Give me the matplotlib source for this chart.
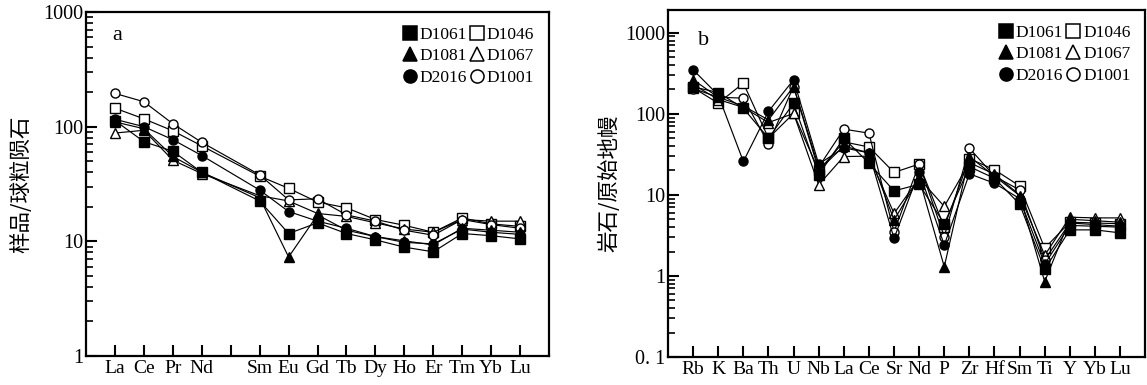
"""
REE chondrite-normalised pattern (a) and primitive-mantle spider diagram (b).
"""

import numpy as np
import matplotlib
matplotlib.use('Agg')
import matplotlib.pyplot as plt
from matplotlib.lines import Line2D
from matplotlib.ticker import LogLocator, NullFormatter

plt.rcParams['font.family'] = ['Liberation Serif', 'Noto Sans CJK SC']

CJK = ['Noto Sans CJK SC', 'DejaVu Sans']

# ---- data -------------------------------------------------------------
SAMPLES = ['D1061', 'D1081', 'D2016', 'D1046', 'D1067', 'D1001']
MARKERS = ['s', '^', 'o', 's', '^', 'o']
FILLED = [True, True, True, False, False, False]

# panel a: REE / chondrite (Pm left empty)
ree_ticks = ['La', 'Ce', 'Pr', 'Nd', '', 'Sm', 'Eu', 'Gd', 'Tb', 'Dy',
             'Ho', 'Er', 'Tm', 'Yb', 'Lu']
ree_d1061 = [113, 74, 61, 40, 22.5, 11.7, 14.5, 11.7, 10.3, 8.9, 8.1, 11.7, 11.2, 10.5]
ree_d1081 = [110, 96, 55, 40, 24, 7.3, 17, 12.5, 11, 10.1, 9.3, 13, 12.5, 12]
ree_d2016 = [116, 100, 77, 56, 28, 18.2, 15, 13, 11, 9.8, 9.5, 12.8, 12, 11.5]
ree_d1046 = [145, 117, 92, 68, 37, 29, 22, 19.6, 15.5, 13.8, 12, 16, 14.2, 13.5]
ree_d1067 = [88, 93, 51, 39, 25, 22.5, 17.5, 16.5, 14.5, 12.8, 12, 15.5, 15, 15]
ree_d1001 = [195, 165, 106, 73, 38, 23, 23.5, 17, 15, 12.5, 11.3, 15.5, 14, 13]

# panel b: trace elements / primitive mantle
spider_ticks = ['Rb', 'K', 'Ba', 'Th', 'U', 'Nb', 'La', 'Ce', 'Sr', 'Nd',
                'P', 'Zr', 'Hf', 'Sm', 'Ti', 'Y', 'Yb', 'Lu']
sp_d1061 = [215, 183, 117, 50, 135, 17.7, 50, 24.6, 11.2, 13.5, 4.4, 22.3, 16, 7.7, 1.21, 3.7, 3.7, 3.4]
sp_d1081 = [263, 160, 125, 84, 217, 20, 40, 33, 4.9, 16, 1.3, 29.7, 17, 9.8, 0.85, 5.0, 4.8, 4.6]
sp_d2016 = [349, 170, 25.8, 107, 263, 24, 38, 33, 2.9, 19.4, 2.4, 18.2, 13.9, 9.0, 1.4, 4.2, 4.1, 4.0]
sp_d1046 = [210, 135, 239, 50, 101, 20, 45, 39, 18.9, 24, 4.0, 28, 20.4, 12.9, 2.2, 4.6, 4.5, 4.4]
sp_d1067 = [230, 150, 120, 78, 101, 13.3, 29.7, 30, 5.9, 16, 7.2, 25, 18, 10, 1.8, 5.3, 5.2, 5.2]
sp_d1001 = [205, 160, 156, 43, 217, 22, 64.7, 57.7, 3.5, 24, 3.06, 37.7, 17, 11.5, 1.58, 4.5, 4.3, 4.1]

REE_SERIES = [ree_d1061, ree_d1081, ree_d2016, ree_d1046, ree_d1067, ree_d1001]
SP_SERIES = [sp_d1061, sp_d1081, sp_d2016, sp_d1046, sp_d1067, sp_d1001]


def style_axes(ax, ticks, ylim, ylabels, ylabel, letter, letter_xy, ylabelpad):
    n = len(ticks)
    ax.set_yscale('log')
    ax.set_xlim(0, n + 1)
    ax.set_ylim(*ylim)
    ax.set_xticks(np.arange(1, n + 1))
    ax.set_xticklabels(ticks, fontsize=14)
    yt = [float(s.replace(' ', '')) for s in ylabels]
    ax.set_yticks(yt)
    ax.set_yticklabels(ylabels, fontsize=14.5)
    ax.yaxis.set_minor_locator(LogLocator(base=10, subs=np.arange(2, 10), numticks=20))
    ax.yaxis.set_minor_formatter(NullFormatter())
    ax.tick_params(axis='x', which='major', direction='in', length=8, width=1.5,
                   pad=3, top=False)
    ax.tick_params(axis='y', which='major', direction='in', length=8, width=1.5,
                   pad=2, right=False)
    ax.tick_params(axis='y', which='minor', direction='in', length=5, width=1.2,
                   right=False)
    for sp in ax.spines.values():
        sp.set_linewidth(1.6)
    ax.set_ylabel(ylabel, family=CJK, fontsize=15.5, labelpad=ylabelpad)
    ax.text(letter_xy[0], letter_xy[1], letter, transform=ax.transAxes,
            fontsize=16, ha='left', va='center')


def plot_series(ax, xs, series_list):
    handles = []
    for vals, mk, filled, name in zip(series_list, MARKERS, FILLED, SAMPLES):
        face = 'black' if filled else 'white'
        ms = 6.5 if mk != '^' else 7
        ax.plot(xs, vals, color='black', linewidth=0.85, marker=mk,
                markersize=ms, markerfacecolor=face,
                markeredgecolor='black', markeredgewidth=1.0,
                zorder=3 if filled else 2)
        handles.append(Line2D([], [], linestyle='None', marker=mk,
                              markersize=ms * 1.45, markerfacecolor=face,
                              markeredgecolor='black', markeredgewidth=1.1,
                              label=name))
    ax.legend(handles=handles, loc='upper right', ncol=2, frameon=False,
              fontsize=12.5, handlelength=0.8, handletextpad=0.15,
              columnspacing=0.2, labelspacing=0.3, borderaxespad=0.45)


fig = plt.figure(figsize=(11.47, 3.85), dpi=100)
ax_a = fig.add_axes([0.075, 0.0753, 0.4037, 0.8935])
ax_b = fig.add_axes([0.5824, 0.0727, 0.4160, 0.901])

ree_x = [i + 1 for i, t in enumerate(ree_ticks) if t]
plot_series(ax_a, ree_x, REE_SERIES)
style_axes(ax_a, ree_ticks, (1, 1000), ['1', '10', '100', '1000'],
           '样品/球粒陨石', 'a', (0.056, 0.933), 8)

sp_x = np.arange(1, len(spider_ticks) + 1)
plot_series(ax_b, sp_x, SP_SERIES)
style_axes(ax_b, spider_ticks, (0.1, 1900), ['0. 1', '1', '10', '100', '1000'],
           '岩石/原始地幔', 'b', (0.063, 0.913), 3)

fig.savefig('out.png', dpi=100)
